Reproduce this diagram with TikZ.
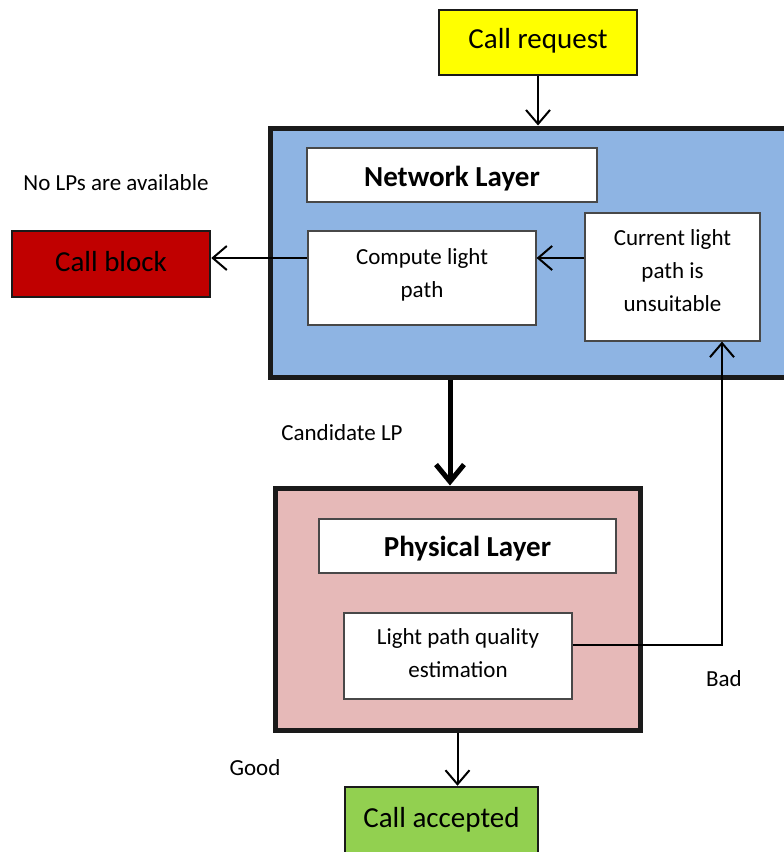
\documentclass[tikz,border=0pt]{standalone}
\usepackage{fontspec}
\setmainfont{Carlito}
\usetikzlibrary{arrows.meta,calc}

\definecolor{reqyellow}{HTML}{FFFF00}
\definecolor{netblue}{HTML}{8EB4E3}
\definecolor{blockred}{HTML}{C00000}
\definecolor{physpink}{HTML}{E6B9B8}
\definecolor{accgreen}{HTML}{92D050}
\definecolor{edge}{HTML}{1A1A1A}

% text raised by #1 while keeping its natural box size, so centring is unaffected
\newcommand{\lift}[2]{\raisebox{#1}[\height][\depth]{#2}}
% multi-line text block, raised by #1
\newcommand{\lines}[2]{\lift{#1}{\begin{tabular}{@{}c@{}}#2\end{tabular}}}

\tikzset{
  bigtext/.style={font=\fontsize{29}{35}\selectfont},
  smalltext/.style={font=\fontsize{23}{33}\selectfont},
  termbox/.style={draw=edge, line width=2.5pt, inner sep=0pt, bigtext, align=center},
  layerbox/.style={draw=edge, line width=5pt, inner sep=0pt},
  titlebox/.style={draw=edge!80, fill=white, line width=1.2pt, inner sep=0pt, bigtext, align=center},
  stepbox/.style={draw=edge!80, fill=white, line width=1.2pt, inner sep=0pt, smalltext, align=center},
  lbl/.style={smalltext, inner sep=0pt},
  arr/.style={line width=2pt, -{Straight Barb[length=14pt,width=24pt,line width=2pt]}},
  bigarr/.style={line width=5pt, -{Straight Barb[length=17pt,width=28pt,line width=5pt]}},
}

\begin{document}
\begin{tikzpicture}[x=1pt,y=-1pt]
\useasboundingbox (0,0) rectangle (784,852);

% terminal boxes
\node[termbox, fill=reqyellow, minimum width=198pt, minimum height=65pt] (req) at (538,42.5) {\lift{1.5pt}{Call request}};
\node[termbox, fill=blockred, minimum width=198pt, minimum height=66pt] (blk) at (111,264) {\lift{2pt}{Call block}};
\node[termbox, fill=accgreen, minimum width=193pt, minimum height=66pt] (acc) at (441.5,820) {Call accepted};

% network layer
\node[layerbox, fill=netblue, minimum width=540pt, minimum height=249pt] (net) at (540,252.5) {};
\node[titlebox, minimum width=290pt, minimum height=54pt] (nettitle) at (452,175) {\lift{-3.5pt}{\textbf{Network Layer}}};
\node[stepbox, minimum width=228pt, minimum height=94pt] (comp) at (422,278) {\lines{3.5pt}{Compute light\\path}};
\node[stepbox, minimum width=175pt, minimum height=128pt] (cur) at (672.5,277) {\lines{5pt}{Current light\\path is\\unsuitable}};

% physical layer
\node[layerbox, fill=physpink, minimum width=365pt, minimum height=242pt] (phys) at (457.5,609) {};
\node[titlebox, minimum width=297pt, minimum height=54pt] (phystitle) at (467.5,546) {\lift{-3pt}{\textbf{Physical Layer}}};
\node[stepbox, minimum width=228pt, minimum height=86pt] (lpq) at (458,656) {\lines{2pt}{Light path quality\\estimation}};

% labels
\node[lbl] (nolp) at (116,183) {No LPs are available};
\node[lbl] (cand) at (342,433) {Candidate LP};
\node[lbl] (bad) at (724,679) {Bad};
\node[lbl] (good) at (255,768) {Good};

% connectors
\draw[arr] (req.south) -- (req.south |- net.north);
\draw[arr] ([yshift=20pt]comp.west) -- ([yshift=20pt]comp.west -| blk.east);
\draw[arr] ([yshift=19pt]cur.west) -- ([yshift=19pt]cur.west -| comp.east);
\coordinate (cand top) at ([xshift=-7.5pt]phys.north |- net.south);
\draw[bigarr] (cand top) -- ([xshift=-7.5pt]phys.north);
\coordinate (bad corner) at ([xshift=49.5pt]cur.south |- 0,645);
\draw[arr] (lpq.east |- bad corner) -- (bad corner) -- ([xshift=49.5pt]cur.south);
\draw[arr] (phys.south) -- (phys.south |- acc.north);
\end{tikzpicture}
\end{document}
